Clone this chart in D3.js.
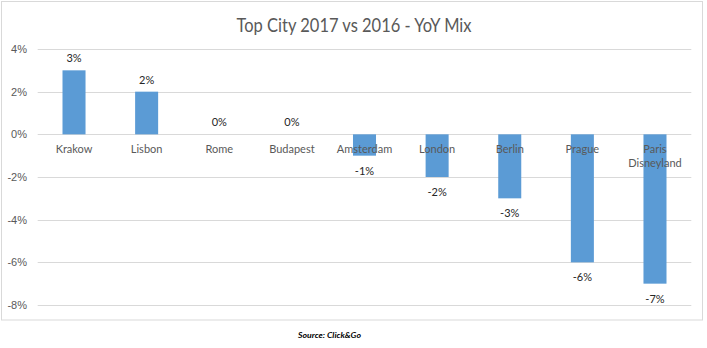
<!DOCTYPE html>
<html>
<head>
<meta charset="utf-8">
<script src="https://cdn.jsdelivr.net/npm/d3@7"></script>
<style>
  html, body { margin: 0; padding: 0; background: #fff; }
  svg { display: block; font-family: Lato, "Open Sans", sans-serif; }
</style>
</head>
<body>
<svg id="chart" width="707" height="348"></svg>
<script>
const categories = ["Krakow", "Lisbon", "Rome", "Budapest", "Amsterdam", "London", "Berlin", "Prague", "Paris Disneyland"];
const values = [3, 2, 0, 0, -1, -2, -3, -6, -7];
const tickValues = [4, 2, 0, -2, -4, -6, -8];
const titleText = "Top City 2017 vs 2016 - YoY Mix";
const sourceText = "Source: Click&Go";

const svg = d3.select("#chart");

// chart frame
svg.append("rect")
  .attr("x", 1.5).attr("y", 1.5)
  .attr("width", 701).attr("height", 318.5)
  .attr("fill", "#fff").attr("stroke", "#d9d9d9").attr("stroke-width", 1);

const x = d3.scaleBand().domain(categories).range([37.7, 691.3]).paddingInner(0.683).paddingOuter(0.3415);
const y = d3.scaleLinear().domain([-8, 4]).range([305, 49]);

// gridlines
svg.append("g")
  .selectAll("line")
  .data(tickValues)
  .join("line")
  .attr("x1", 37.7).attr("x2", 691.3)
  .attr("y1", d => Math.round(y(d)) + 0.5)
  .attr("y2", d => Math.round(y(d)) + 0.5)
  .attr("stroke", "#d9d9d9").attr("stroke-width", 1);

// y axis labels
const yAxis = d3.axisLeft(y).tickValues(tickValues).tickSize(0).tickPadding(0)
  .tickFormat(d => d + "%");
const yg = svg.append("g").attr("transform", "translate(27,0)").call(yAxis);
yg.select(".domain").remove();
yg.selectAll("text").attr("fill", "#595959").attr("font-size", "11px");

// bars
svg.append("g")
  .selectAll("rect")
  .data(values)
  .join("rect")
  .attr("x", (d, i) => x(categories[i]))
  .attr("width", x.bandwidth())
  .attr("y", d => y(Math.max(0, d)))
  .attr("height", d => Math.abs(y(d) - y(0)))
  .attr("fill", "#5b9bd5");

// category labels
const catG = svg.append("g");
categories.forEach((c, i) => {
  const cx = x(c) + x.bandwidth() / 2;
  const words = c === "Paris Disneyland" ? ["Paris", "Disneyland"] : [c];
  const t = catG.append("text")
    .attr("x", cx).attr("y", y(0) + 19)
    .attr("text-anchor", "middle")
    .attr("fill", "#595959").attr("font-size", "11px");
  words.forEach((w, k) => {
    t.append("tspan").attr("x", cx).attr("dy", k === 0 ? 0 : 13.5).text(w);
  });
});

// data labels
svg.append("g")
  .selectAll("text")
  .data(values)
  .join("text")
  .attr("x", (d, i) => x(categories[i]) + x.bandwidth() / 2)
  .attr("y", d => d >= 0 ? y(d) - 8 : y(d) + 19)
  .attr("text-anchor", "middle")
  .attr("fill", "#262626").attr("font-size", "11px")
  .text(d => d + "%");

// title
svg.append("text")
  .attr("x", 236.5).attr("y", 32)
  .attr("fill", "#595959").attr("font-size", "20px")
  .attr("textLength", 235).attr("lengthAdjust", "spacingAndGlyphs")
  .text(titleText);

// source
svg.append("text")
  .attr("x", 298).attr("y", 338)
  .attr("fill", "#000").attr("font-size", "8px")
  .attr("font-style", "italic").attr("font-weight", "bold")
  .attr("textLength", 63).attr("lengthAdjust", "spacingAndGlyphs")
  .text(sourceText);
</script>
</body>
</html>
